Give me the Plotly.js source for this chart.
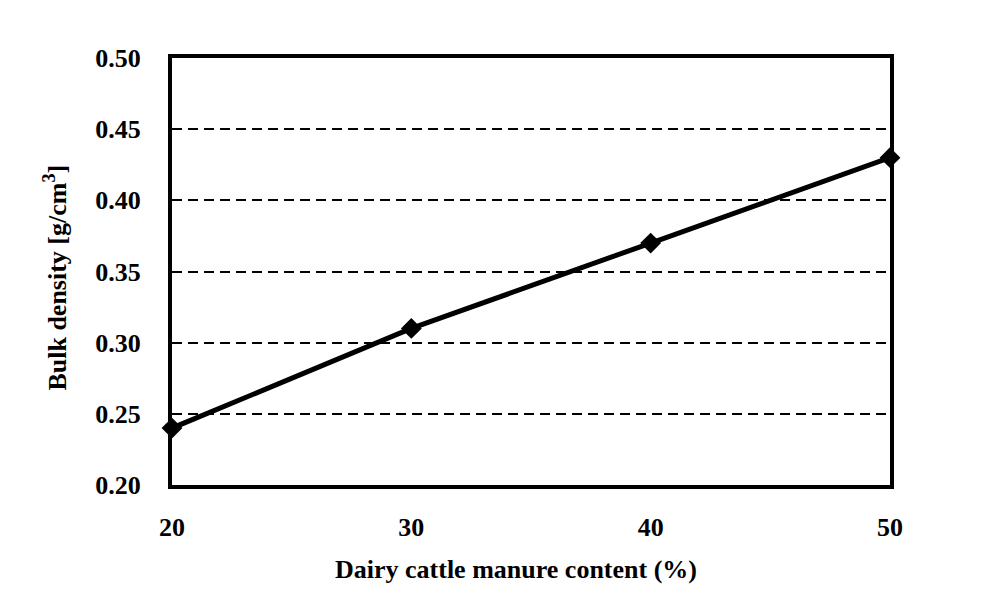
<!DOCTYPE html>
<html>
<head>
<meta charset="utf-8">
<script src="https://cdn.plot.ly/plotly-3.0.1.min.js"></script>
<style>html,body{margin:0;padding:0;background:#fff;}#chart{width:1007px;height:607px;}</style>
</head>
<body>
<div id="chart"></div>
<script>
const manureContent = [20, 30, 40, 50];
const bulkDensity = [0.24, 0.31, 0.37, 0.43];
const xTicks = [20, 30, 40, 50];
const yTicks = [0.20, 0.25, 0.30, 0.35, 0.40, 0.45, 0.50];
const xTitle = '<b>Dairy cattle manure content (%)</b>';
const yTitle = '<b>Bulk density [g/cm<sup>3</sup>]</b>';

const font = {family: '"Liberation Serif", "Times New Roman", serif', color: '#000'};

const trace = {
  x: manureContent,
  y: bulkDensity,
  type: 'scatter',
  mode: 'lines+markers',
  line: {color: '#000', width: 5},
  marker: {symbol: 'diamond', size: 16, color: '#000'},
  cliponaxis: false,
  showlegend: false
};

const layout = {
  width: 1007,
  height: 607,
  margin: {l: 172, r: 117, t: 58, b: 122},
  paper_bgcolor: '#fff',
  plot_bgcolor: '#fff',
  font: font,
  xaxis: {
    range: [20, 50],
    tickvals: xTicks,
    ticktext: xTicks.map(String),
    showgrid: false,
    zeroline: false,
    showline: true,
    linecolor: '#000',
    linewidth: 4,
    mirror: true,
    ticks: '',
    ticklabelstandoff: 16,
    tickfont: {family: font.family, size: 26, color: '#000', weight: 'bold'}
  },
  yaxis: {
    range: [0.20, 0.50],
    tickvals: yTicks,
    ticktext: yTicks.map(v => v.toFixed(2)),
    showgrid: true,
    gridcolor: '#000',
    gridwidth: 2,
    griddash: '10px,6px',
    zeroline: false,
    showline: true,
    linecolor: '#000',
    linewidth: 4,
    mirror: true,
    ticks: '',
    ticklabelstandoff: 22,
    tickfont: {family: font.family, size: 26, color: '#000', weight: 'bold'}
  },
  annotations: [
    {
      text: xTitle, xref: 'paper', yref: 'paper', x: 0.479, y: -0.199,
      xanchor: 'center', yanchor: 'middle', showarrow: false,
      font: {family: font.family, size: 26, color: '#000'}
    },
    {
      text: yTitle, xref: 'paper', yref: 'paper', x: -0.162, y: 0.485,
      xanchor: 'center', yanchor: 'middle', showarrow: false, textangle: -90,
      font: {family: font.family, size: 26, color: '#000'}
    }
  ]
};

Plotly.newPlot('chart', [trace], layout, {displayModeBar: false, staticPlot: true});
</script>
</body>
</html>
